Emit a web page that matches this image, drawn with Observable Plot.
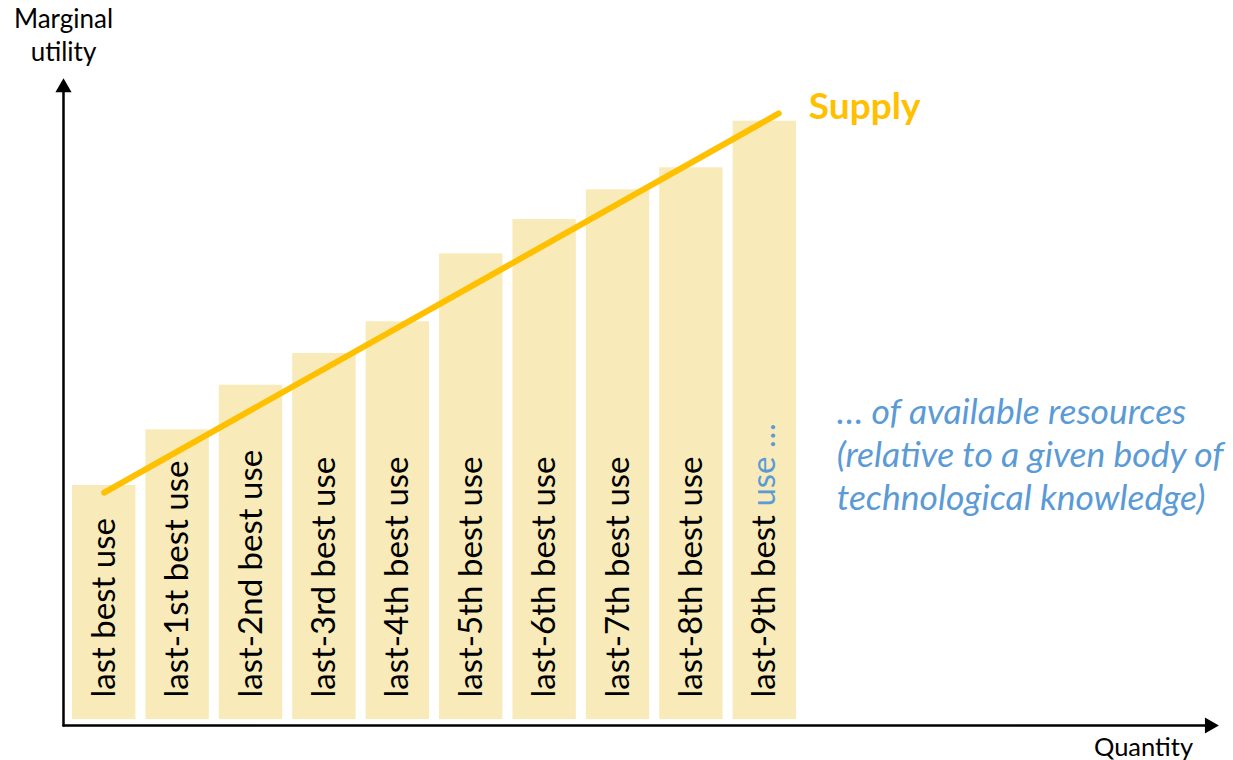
<!DOCTYPE html>
<html>
<head>
<meta charset="utf-8">
<script src="https://cdn.jsdelivr.net/npm/d3@7"></script>
<script src="https://cdn.jsdelivr.net/npm/@observablehq/plot@0.6"></script>
<style>
  html, body { margin: 0; padding: 0; background: #fff; }
  #chart svg { display: block; font-family: Lato, "Open Sans", sans-serif; }
</style>
</head>
<body>
<div id="chart"></div>
<script>
// ---- data ----
const categories = [
  "last best use", "last-1st best use", "last-2nd best use", "last-3rd best use",
  "last-4th best use", "last-5th best use", "last-6th best use", "last-7th best use",
  "last-8th best use", "last-9th best use …"
];
const marginalUtility = [37.1, 45.7, 52.6, 57.5, 62.4, 72.9, 78.2, 82.8, 86.2, 93.4];
const supplyQuantity = [0.5, 9.69];
const supplyUtility = [36.0, 94.6];
const annotationLines = ["… of available resources", "(relative to a given body of", "technological knowledge)"];
const yAxisTitle = ["Marginal", "utility"];
const xAxisTitle = "Quantity";
const supplyTitle = "Supply";

const bars = categories.map((c, i) => ({label: c, i, value: marginalUtility[i]}));
const supply = supplyQuantity.map((q, k) => ({q, u: supplyUtility[k]}));

const BAR = "#F8EBB9", GOLD = "#FFC000", BLUE = "#5B9BD5";
const AX = -0.0545, XEND = 15.56, YEND = 98.6;

const svg = Plot.plot({
  width: 1233,
  height: 760,
  marginLeft: 67,
  marginRight: 0,
  marginTop: 78,
  marginBottom: 35,
  x: {domain: [0, 15.886], axis: null},
  y: {domain: [0, 100], axis: null},
  marks: [
    Plot.rectY(bars, {x1: d => d.i, x2: d => d.i + 1, y: "value", fill: BAR, insetLeft: 5, insetRight: 5, insetBottom: 6}),
    Plot.line(supply, {x: "q", y: "u", stroke: GOLD, strokeWidth: 6}),
    Plot.text(bars, {x: d => d.i + 0.5, y: 4.33, text: "label", rotate: -90, textAnchor: "start", fontSize: 33, fill: "#000"}),
    // axes
    Plot.line([{x: AX, y: 0}, {x: XEND, y: 0}], {x: "x", y: "y", stroke: "#000", strokeWidth: 2.5}),
    Plot.line([{x: AX, y: 0}, {x: AX, y: YEND}], {x: "x", y: "y", stroke: "#000", strokeWidth: 2.5}),
    Plot.dot([{x: XEND, y: 0}], {x: "x", y: "y", symbol: "triangle", r: 6, fill: "#000", rotate: 90}),
    Plot.dot([{x: AX, y: YEND}], {x: "x", y: "y", symbol: "triangle", r: 6, fill: "#000"}),
    // axis titles
    Plot.text([yAxisTitle.join("\n")], {x: AX, y: 106.9, text: d => d, fontSize: 26, lineHeight: 1.27, fill: "#000"}),
    Plot.text([xAxisTitle], {x: 14.66, y: -3.4, text: d => d, fontSize: 25.5, fill: "#000"}),
    // supply label
    Plot.text([supplyTitle], {x: 10.1, y: 95.5, text: d => d, textAnchor: "start", fontSize: 37, fontWeight: "bold", fill: GOLD}),
    // annotation
    Plot.text([annotationLines.join("\n")], {x: 10.48, y: 42.1, text: d => d, textAnchor: "start", fontSize: 35.5, fontStyle: "italic", lineHeight: 1.21, fill: BLUE})
  ]
});

// colour the trailing "use …" of the last label blue
svg.querySelectorAll("text").forEach(t => {
  if (t.textContent === categories[categories.length - 1]) {
    t.textContent = "";
    const ns = "http://www.w3.org/2000/svg";
    const a = document.createElementNS(ns, "tspan");
    a.textContent = "last-9th best";
    const b = document.createElementNS(ns, "tspan");
    b.textContent = " use …";
    b.setAttribute("fill", BLUE);
    t.appendChild(a); t.appendChild(b);
  }
});

document.getElementById("chart").appendChild(svg);
</script>
</body>
</html>
